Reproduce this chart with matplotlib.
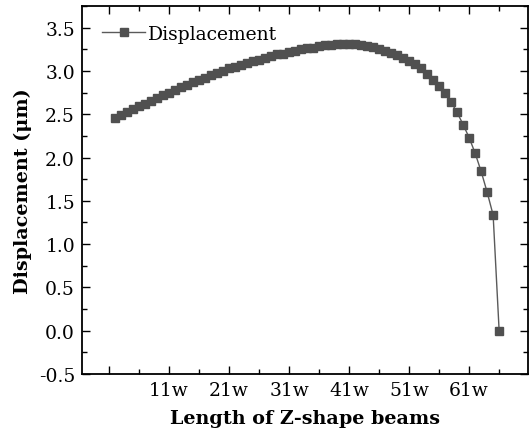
import matplotlib
matplotlib.use("Agg")
import matplotlib.pyplot as plt
from matplotlib.ticker import MultipleLocator, FixedLocator

# data (position index -> displacement in um)
beam_index = list(range(2, 67))
displacement = [
    2.46, 2.49, 2.52, 2.56, 2.59, 2.62, 2.65, 2.69, 2.72, 2.75,
    2.78, 2.81, 2.84, 2.87, 2.90, 2.92, 2.95, 2.98, 3.00, 3.03,
    3.05, 3.07, 3.09, 3.11, 3.13, 3.15, 3.17, 3.19, 3.20, 3.22,
    3.235, 3.25, 3.26, 3.27, 3.285, 3.295, 3.305, 3.31, 3.315, 3.315,
    3.31, 3.30, 3.29, 3.275, 3.255, 3.235, 3.21, 3.18, 3.15, 3.115,
    3.075, 3.03, 2.97, 2.90, 2.83, 2.74, 2.64, 2.52, 2.38, 2.23,
    2.05, 1.84, 1.60, 1.335, 0.0,
]
xtick_pos = [1, 11, 21, 31, 41, 51, 61, 71]
xtick_labels = ["", "11w", "21w", "31w", "41w", "51w", "61w", ""]

plt.rcParams["font.family"] = ["DejaVu Serif"]

fig = plt.figure(figsize=(5.29, 4.39), dpi=100)
ax = fig.add_axes([0.155, 0.146, 0.843, 0.838])

ax.plot(beam_index, displacement, color="#5a5a5a", linewidth=1.0,
        marker="s", markersize=5.2, markerfacecolor="#505050",
        markeredgecolor="#505050", label="Displacement")

ax.set_xlim(-3.5, 70.8)
ax.set_ylim(-0.5, 3.75)

ax.xaxis.set_major_locator(FixedLocator(xtick_pos))
ax.set_xticklabels(xtick_labels)
ax.xaxis.set_minor_locator(FixedLocator([p + 5 for p in xtick_pos]))
ax.yaxis.set_major_locator(MultipleLocator(0.5))
ax.yaxis.set_minor_locator(MultipleLocator(0.25))
ax.yaxis.set_major_formatter(plt.FuncFormatter(lambda v, p: f"{v:.1f}"))

ax.tick_params(which="both", direction="in", top=True, right=True,
               labelsize=13.5, width=1.0)
ax.tick_params(which="major", length=6, pad=5)
ax.tick_params(which="minor", length=3.5)
for s in ax.spines.values():
    s.set_linewidth(1.3)

ax.set_xlabel("Length of Z-shape beams", fontsize=13.8, fontweight="bold", labelpad=7)
ax.set_ylabel("Displacement (μm)", fontsize=13.8, fontweight="bold", labelpad=5)

ax.legend(loc="center left", bbox_to_anchor=(0.045, 0.924), frameon=False,
          fontsize=13.5, handlelength=2.3, handletextpad=0.15,
          borderaxespad=0, borderpad=0)

fig.savefig("out.png", dpi=100)
